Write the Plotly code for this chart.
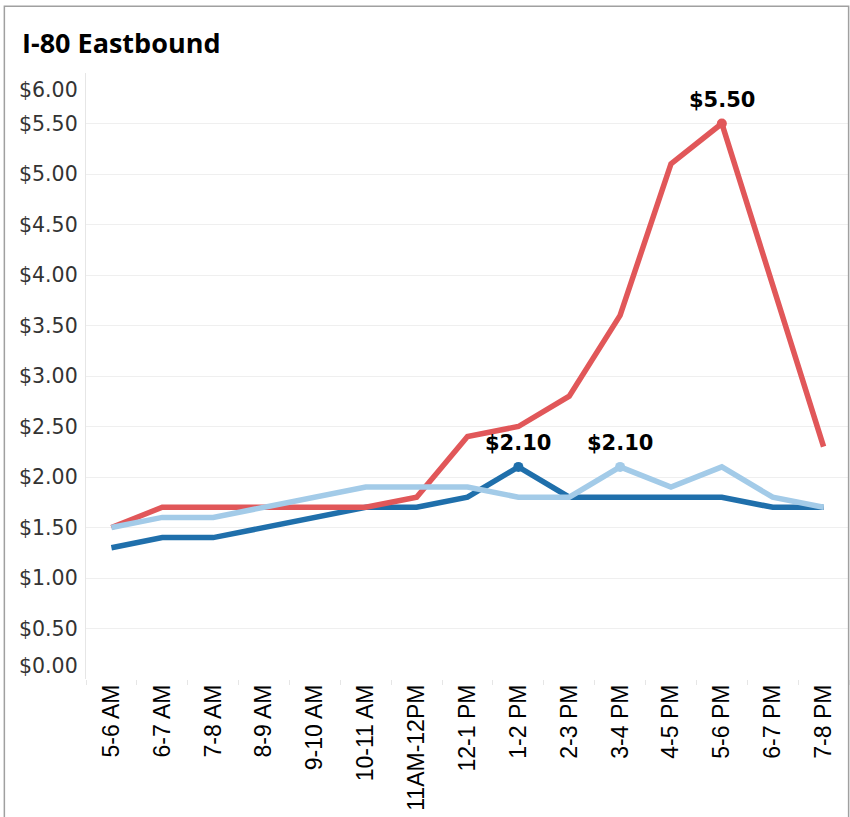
import plotly.graph_objects as go

hours = ["5-6 AM", "6-7 AM", "7-8 AM", "8-9 AM", "9-10 AM", "10-11 AM", "11AM-12PM",
         "12-1 PM", "1-2 PM", "2-3 PM", "3-4 PM", "4-5 PM", "5-6 PM", "6-7 PM", "7-8 PM"]
red_vals = [1.5, 1.7, 1.7, 1.7, 1.7, 1.7, 1.8, 2.4, 2.5, 2.8, 3.6, 5.1, 5.5, 3.9, 2.3]
dark_vals = [1.3, 1.4, 1.4, 1.5, 1.6, 1.7, 1.7, 1.8, 2.1, 1.8, 1.8, 1.8, 1.8, 1.7, 1.7]
light_vals = [1.5, 1.6, 1.6, 1.7, 1.8, 1.9, 1.9, 1.9, 1.8, 1.8, 2.1, 1.9, 2.1, 1.8, 1.7]
y_ticks = [0, 0.5, 1, 1.5, 2, 2.5, 3, 3.5, 4, 4.5, 5, 5.5, 6]
y_tick_labels = ["$%.2f" % v for v in y_ticks]

RED = "#e15759"
DARK = "#1f6fab"
LIGHT = "#a3cbe8"

# labelled points: (series values, category index, colour)
labels = [(red_vals, 12, RED), (dark_vals, 8, DARK), (light_vals, 10, LIGHT)]

fig = go.Figure()
for vals, col in [(dark_vals, DARK), (red_vals, RED), (light_vals, LIGHT)]:
    fig.add_trace(go.Scatter(x=hours, y=vals, mode="lines",
                             line=dict(color=col, width=5.5), hoverinfo="skip"))

for vals, idx, col in labels:
    fig.add_trace(go.Scatter(x=[hours[idx]], y=[vals[idx]], mode="markers",
                             marker=dict(color=col, size=10), hoverinfo="skip"))
    fig.add_annotation(x=hours[idx], y=vals[idx], text="<b>$%.2f</b>" % vals[idx],
                       showarrow=False, yshift=24,
                       font=dict(family="DejaVu Sans", size=21, color="#000000"))

for v, t in zip(y_ticks, y_tick_labels):
    shift = 0
    if v == 6:
        shift = -17
    elif v == 0:
        shift = 13
    fig.add_annotation(x=0, xref="paper", y=v, yref="y", text=t, showarrow=False,
                       xanchor="right", xshift=-6, yshift=shift,
                       font=dict(family="DejaVu Sans", size=20.5, color="#333333"))

fig.add_annotation(x=0, xref="paper", y=1, yref="paper", text="<b>I-80 Eastbound</b>",
                   showarrow=False, xanchor="left", yanchor="middle",
                   xshift=-66, yshift=31,
                   font=dict(family="Open Sans", size=27, color="#000000"))

# outer frame
fig.add_shape(type="rect", xref="paper", yref="paper",
              x0=-0.107, x1=0.9995, y0=-0.235, y1=1.11,
              line=dict(color="#a0a0a0", width=1.5), layer="above")

fig.update_layout(
    width=850, height=817,
    margin=dict(l=86, r=1, t=73, b=138),
    paper_bgcolor="white", plot_bgcolor="white",
    showlegend=False,
    xaxis=dict(type="category", range=[-0.5, 14.5], tickangle=-90,
               showgrid=False, showline=False, zeroline=False,
               ticks="outside", ticklen=5, tickcolor="#e6e6e6", tickson="boundaries",
               tickfont=dict(family="Liberation Sans", size=23, color="#000000")),
    yaxis=dict(range=[0, 6], tickvals=y_ticks, showticklabels=False,
               showgrid=True, gridcolor="#efefef", gridwidth=1,
               zeroline=False, showline=True, linecolor="#e6e6e6", linewidth=1),
)

fig.write_html("out.html", config={"displayModeBar": False},
               post_script="document.body.style.margin='0px';")
